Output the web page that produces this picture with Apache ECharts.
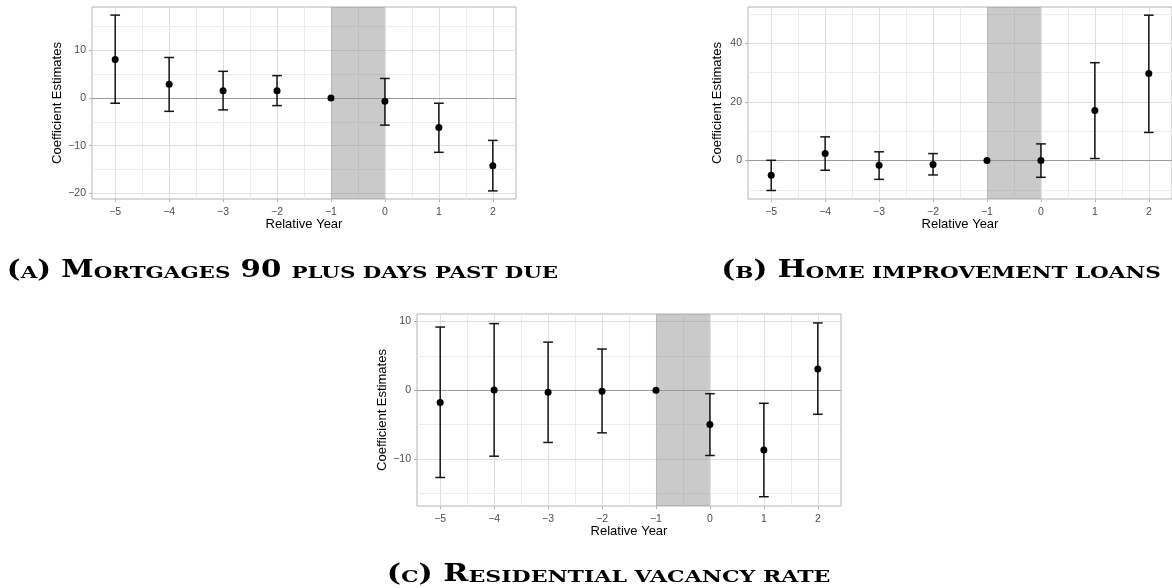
<!DOCTYPE html>
<html>
<head>
<meta charset="utf-8">
<title>Event study coefficient estimates</title>
<script src="https://cdn.jsdelivr.net/npm/echarts@6/dist/echarts.min.js"></script>
<style>
html, body {margin: 0; padding: 0; background: #fff; overflow: hidden;}
#chart {width: 1172px; height: 588px;}
</style>
</head>
<body>
<div id="chart"></div>
<script>
var years = [-5, -4, -3, -2, -1, 0, 1, 2];
var xTicks = [-5, -4, -3, -2, -1, 0, 1, 2];
var xMinor = [-4.5, -3.5, -2.5, -1.5, -0.5, 0.5, 1.5];

// (a) mortgages 90 plus days past due
var mortEst  = [8.1, 2.9, 1.5, 1.5, 0, -0.7, -6.2, -14.2];
var mortLow  = [-1.1, -2.8, -2.5, -1.6, 0, -5.7, -11.4, -19.5];
var mortHigh = [17.4, 8.5, 5.6, 4.7, 0, 4.1, -1.1, -8.9];
var mortTicks = [-20, -10, 0, 10];
var mortMinor = [-15, -5, 5, 15];

// (b) home improvement loans
var homeEst  = [-5.0, 2.4, -1.6, -1.3, 0, 0, 17.1, 29.7];
var homeLow  = [-10.2, -3.3, -6.4, -4.9, 0, -5.7, 0.7, 9.6];
var homeHigh = [0.1, 8.1, 3.0, 2.4, 0, 5.7, 33.4, 49.6];
var homeTicks = [0, 20, 40];
var homeMinor = [-10, 10, 30, 50];

// (c) residential vacancy rate
var vacEst  = [-1.8, 0.05, -0.3, -0.15, 0, -5.0, -8.7, 3.1];
var vacLow  = [-12.7, -9.6, -7.6, -6.2, 0, -9.5, -15.5, -3.5];
var vacHigh = [9.2, 9.7, 7.0, 6.0, 0, -0.5, -1.9, 9.8];
var vacTicks = [-10, 0, 10];
var vacMinor = [-15, -5, 5];

// panel (b) runs off the right edge of the page, like in the source figure
var panels = [
	{est: mortEst, low: mortLow, high: mortHigh, ticks: mortTicks, minor: mortMinor,
		yMin: -21.2, yMax: 19.1, left: 92, top: 7, width: 424, height: 192, yGap: 28.5, xGap: 19},
	{est: homeEst, low: homeLow, high: homeHigh, ticks: homeTicks, minor: homeMinor,
		yMin: -13.1, yMax: 52.4, left: 748, top: 7, width: 425, height: 192, yGap: 24.5, xGap: 19},
	{est: vacEst, low: vacLow, high: vacHigh, ticks: vacTicks, minor: vacMinor,
		yMin: -16.85, yMax: 11.1, left: 417, top: 314, width: 424, height: 192, yGap: 28.5, xGap: 14}
];

var capHalf = 0.09;

function minus(v){
	return String(v).replace('-', '\u2212');
}

function renderErrorBar(params, api){
	var x = api.value(0);
	var top = api.coord([x, api.value(2)]);
	var bot = api.coord([x, api.value(1)]);
	var l = api.coord([x - capHalf, api.value(2)])[0];
	var r = api.coord([x + capHalf, api.value(2)])[0];
	var style = {stroke: '#151515', lineWidth: 1.5};
	return {
		type: 'group',
		children: [
			{type: 'line', shape: {x1: top[0], y1: top[1], x2: bot[0], y2: bot[1]}, style: style},
			{type: 'line', shape: {x1: l, y1: top[1], x2: r, y2: top[1]}, style: style},
			{type: 'line', shape: {x1: l, y1: bot[1], x2: r, y2: bot[1]}, style: style}
		]
	};
}

var majorLine = {color: '#dedede', width: 1, type: 'solid'};
var minorLine = {color: '#ececec', width: 1, type: 'solid'};

var grids = [], xAxes = [], yAxes = [], series = [];

for (var i = 0; i < panels.length; i++) {
	var p = panels[i];
	grids.push({
		left: p.left, top: p.top, width: p.width, height: p.height,
		show: true, borderColor: '#b3b3b3', borderWidth: 1, backgroundColor: '#fff'
	});
	xAxes.push({
		type: 'value', gridIndex: i, min: -5.43, max: 2.43,
		name: 'Relative Year', nameLocation: 'middle', nameGap: p.xGap,
		nameTextStyle: {fontFamily: 'Liberation Sans', fontSize: 13, color: '#000'},
		axisLine: {show: false, onZero: false},
		axisTick: {show: true, customValues: xTicks, length: 3, lineStyle: {color: '#b3b3b3'}},
		axisLabel: {customValues: xTicks, formatter: minus, margin: 7.5,
			fontFamily: 'Liberation Sans', fontSize: 10.5, color: '#4d4d4d'},
		splitLine: {show: false}
	});
	yAxes.push({
		type: 'value', gridIndex: i, min: p.yMin, max: p.yMax,
		name: 'Coefficient Estimates', nameLocation: 'middle', nameGap: p.yGap,
		nameTextStyle: {fontFamily: 'Liberation Sans', fontSize: 13, color: '#000'},
		axisLine: {show: false, onZero: false},
		axisTick: {show: true, customValues: p.ticks, length: 3, lineStyle: {color: '#b3b3b3'}},
		axisLabel: {customValues: p.ticks, formatter: minus, margin: 6,
			fontFamily: 'Liberation Sans', fontSize: 10.5, color: '#4d4d4d'},
		splitLine: {show: false}
	});

	var lines = [];
	xTicks.forEach(function(v){ lines.push({xAxis: v, lineStyle: majorLine}); });
	xMinor.forEach(function(v){ lines.push({xAxis: v, lineStyle: minorLine}); });
	p.ticks.forEach(function(v){ lines.push({yAxis: v, lineStyle: majorLine}); });
	p.minor.forEach(function(v){ lines.push({yAxis: v, lineStyle: minorLine}); });

	var bars = [], points = [];
	for (var k = 0; k < years.length; k++) {
		points.push([years[k], p.est[k]]);
		if (p.high[k] != p.low[k]) {
			bars.push([years[k], p.low[k], p.high[k]]);
		}
	}

	series.push({
		type: 'line', xAxisIndex: i, yAxisIndex: i, data: [], z: 1, silent: true,
		markLine: {silent: true, z: 1, symbol: ['none', 'none'], label: {show: false}, data: lines}
	});
	series.push({
		type: 'line', xAxisIndex: i, yAxisIndex: i, data: [], z: 2, silent: true,
		markArea: {silent: true, z: 2, itemStyle: {color: 'rgba(128,128,128,0.42)', borderWidth: 0},
			data: [[{xAxis: -1}, {xAxis: 0}]]}
	});
	series.push({
		type: 'line', xAxisIndex: i, yAxisIndex: i, data: [], z: 3, silent: true,
		markLine: {silent: true, z: 3, symbol: ['none', 'none'], label: {show: false},
			lineStyle: {color: '#999', width: 1, type: 'solid'}, data: [{yAxis: 0}]}
	});
	series.push({
		type: 'custom', xAxisIndex: i, yAxisIndex: i, z: 4, silent: true,
		renderItem: renderErrorBar, encode: {x: 0, y: [1, 2]}, data: bars
	});
	series.push({
		type: 'scatter', xAxisIndex: i, yAxisIndex: i, z: 5, silent: true,
		symbolSize: 7, itemStyle: {color: '#000', opacity: 1}, data: points
	});
}

var capRich = {
	b: {fontFamily: 'DejaVu Serif', fontWeight: 'bold', fontSize: 24, color: '#000', verticalAlign: 'bottom'},
	s: {fontFamily: 'DejaVu Serif', fontWeight: 'bold', fontSize: 17.5, color: '#000', verticalAlign: 'bottom'}
};

function caption(x, y, text, sx){
	return {
		type: 'text', x: x, y: y, scaleX: sx, silent: true,
		style: {text: text, rich: capRich, align: 'center', verticalAlign: 'middle'}
	};
}

var myChart = echarts.init(document.getElementById('chart'));

var option = {
	animation: false,
	backgroundColor: '#fff',
	grid: grids,
	xAxis: xAxes,
	yAxis: yAxes,
	series: series,
	graphic: [
		caption(282.5, 270.5, '{b|(}{s|A}{b|) M}{s|ORTGAGES}{b| 90 }{s|PLUS DAYS PAST DUE}', 1.22),
		caption(941, 270.5, '{b|(}{s|B}{b|) H}{s|OME IMPROVEMENT LOANS}', 1.23),
		caption(608.5, 574.5, '{b|(}{s|C}{b|) R}{s|ESIDENTIAL VACANCY RATE}', 1.26)
	]
};

myChart.setOption(option);
</script>
</body>
</html>
